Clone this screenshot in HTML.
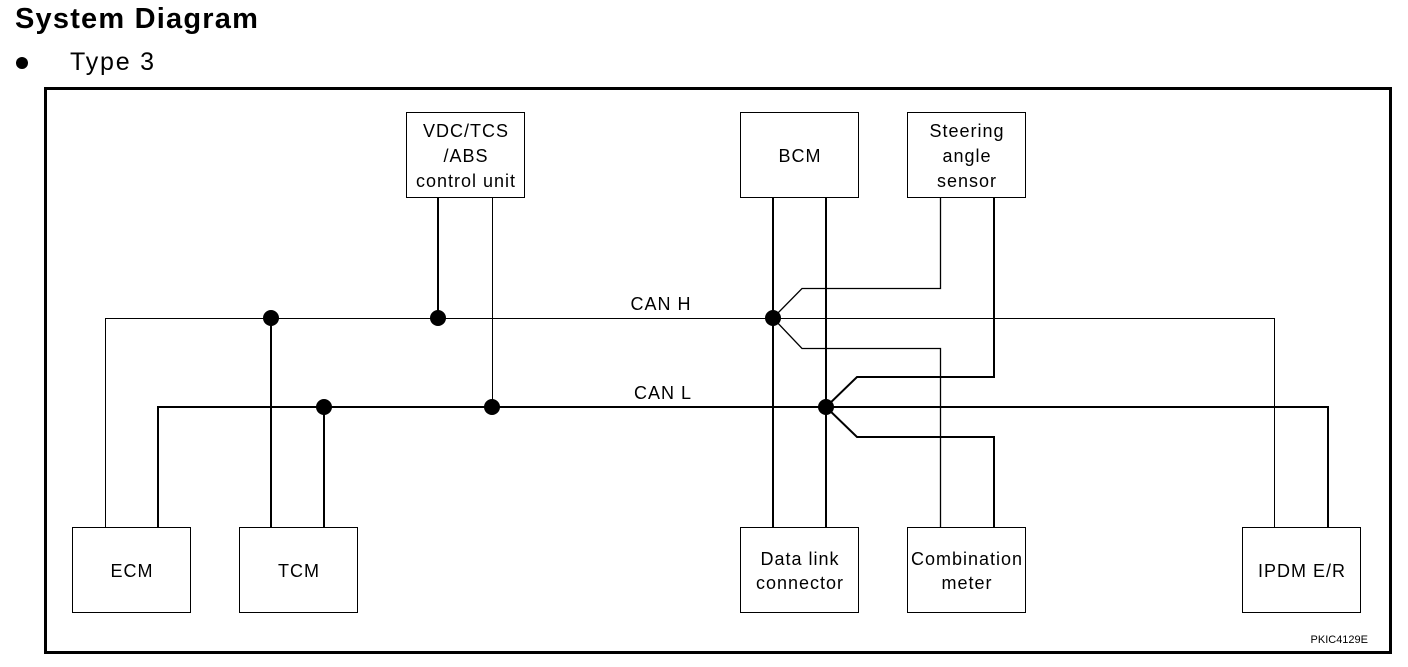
<!DOCTYPE html>
<html><head><style>
body{margin:0;background:#fff;width:1408px;height:662px;overflow:hidden;font-family:"Liberation Sans",Arial,sans-serif;}
</style></head><body>
<svg width="1408" height="662" xmlns="http://www.w3.org/2000/svg" font-family="Liberation Sans, Arial, sans-serif">
<text x="15" y="28" font-size="29" font-weight="bold" letter-spacing="1.2">System Diagram</text>
<circle cx="22" cy="63" r="6"/>
<text x="70" y="70" font-size="25" letter-spacing="1.8">Type 3</text>
<rect x="45.5" y="88.5" width="1345" height="564" fill="none" stroke="#000" stroke-width="3"/>
<g fill="none" stroke="#000">
<path d="M105.5 527 V318.5 H1274.5 V527" stroke-width="1"/>
<path d="M158 527 V407 H1328 V527" stroke-width="2"/>
<path d="M271 318 V527" stroke-width="2"/>
<path d="M324 407 V527" stroke-width="2"/>
<path d="M438 197 V318" stroke-width="2"/>
<path d="M492.5 197 V407" stroke-width="1"/>
<path d="M773 197 V527" stroke-width="2"/>
<path d="M826 197 V527" stroke-width="2"/>
<path d="M940.5 197 V288.5 H802 L773 318 L802 348.5 H940.5 V527" stroke-width="1.3"/>
<path d="M994 197 V377 H857 L826 407 L857 437 H994 V527" stroke-width="2"/>
<rect x="406.5" y="112.5" width="118" height="85" stroke-width="1"/>
<rect x="740.5" y="112.5" width="118" height="85" stroke-width="1"/>
<rect x="907.5" y="112.5" width="118" height="85" stroke-width="1"/>
<rect x="72.5" y="527.5" width="118" height="85" stroke-width="1"/>
<rect x="239.5" y="527.5" width="118" height="85" stroke-width="1"/>
<rect x="740.5" y="527.5" width="118" height="85" stroke-width="1"/>
<rect x="907.5" y="527.5" width="118" height="85" stroke-width="1"/>
<rect x="1242.5" y="527.5" width="118" height="85" stroke-width="1"/>
</g>
<g fill="#000">
<circle cx="271" cy="318" r="8"/><circle cx="438" cy="318" r="8"/><circle cx="773" cy="318" r="8"/>
<circle cx="324" cy="407" r="8"/><circle cx="492" cy="407" r="8"/><circle cx="826" cy="407" r="8"/>
</g>
<g font-size="18" text-anchor="middle" letter-spacing="1">
<text x="466" y="137">VDC/TCS</text><text x="466" y="162">/ABS</text><text x="466" y="187">control unit</text>
<text x="800" y="162">BCM</text>
<text x="967" y="137">Steering</text><text x="967" y="162">angle</text><text x="967" y="187">sensor</text>
<text x="132" y="577">ECM</text>
<text x="299" y="577">TCM</text>
<text x="800" y="565">Data link</text><text x="800" y="589">connector</text>
<text x="967" y="565">Combination</text><text x="967" y="589">meter</text>
<text x="1302" y="577">IPDM E/R</text>
<text x="661" y="310">CAN H</text>
<text x="663" y="399">CAN L</text>
</g>
<text x="1368" y="643" font-size="11" text-anchor="end">PKIC4129E</text>
</svg>
</body></html>
